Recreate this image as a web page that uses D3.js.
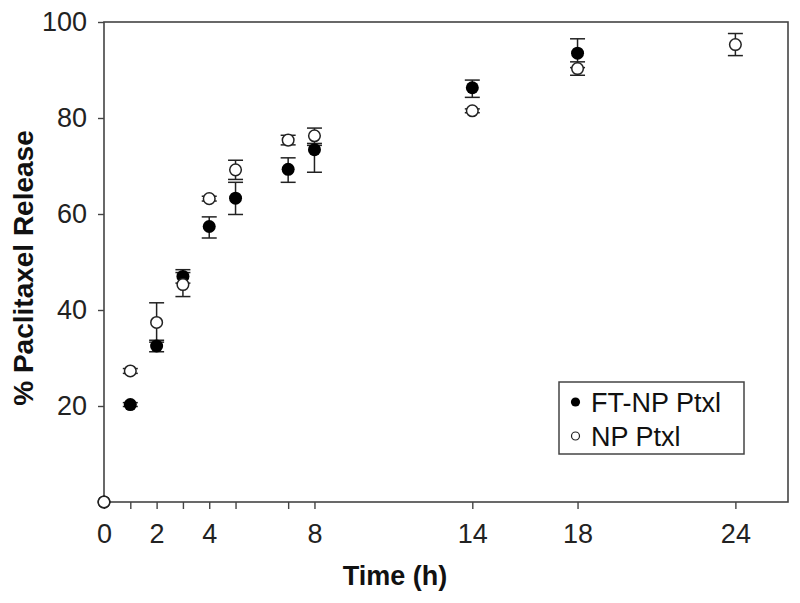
<!DOCTYPE html>
<html>
<head>
<meta charset="utf-8">
<script src="https://cdn.jsdelivr.net/npm/d3@7"></script>
<style>
  body { margin: 0; background: #fff; }
  text { font-family: "Liberation Sans", Arial, sans-serif; }
</style>
</head>
<body>
<script>
// Data
const ftTime = [0, 1, 2, 3, 4, 5, 7, 8, 14, 18];
const ftRelease = [0, 20.3, 32.5, 47, 57.4, 63.3, 69.3, 73.4, 86.3, 93.5];
const ftErrLow = [0, 0.4, 1.2, 1.4, 2.4, 3.4, 2.7, 4.7, 2.0, 3.0];
const ftErrHigh = [0, 0.4, 1.2, 1.4, 2.0, 3.3, 2.4, 0.9, 1.6, 3.0];

const npTime = [0, 1, 2, 3, 4, 5, 7, 8, 14, 18, 24];
const npRelease = [0, 27.3, 37.4, 45.3, 63.2, 69.2, 75.4, 76.3, 81.5, 90.3, 95.3];
const npErr = [0, 0.5, 4.1, 2.5, 0.5, 2.0, 1.0, 1.6, 0.4, 1.4, 2.3];

const xTicks = [0, 1, 2, 3, 4, 5, 7, 8, 14, 18, 24];
const xLabels = [0, 2, 4, 8, 14, 18, 24];
const yTicks = [20, 40, 60, 80, 100];

const seriesNames = ["FT-NP Ptxl", "NP Ptxl"];

// Layout
const W = 800, H = 603;
const plotLeft = 104, plotRight = 788, plotTop = 22, plotBottom = 502;
const axisColor = "#444";
const fontSize = 27;

const svg = d3.select("body").append("svg")
  .attr("width", W)
  .attr("height", H);

const x = d3.scaleLinear().domain([0, 26]).range([plotLeft, plotRight]);
const y = d3.scaleLinear().domain([0, 100]).range([plotBottom, plotTop]);

// Frame
svg.append("rect")
  .attr("x", plotLeft).attr("y", plotTop)
  .attr("width", plotRight - plotLeft).attr("height", plotBottom - plotTop)
  .attr("fill", "none")
  .attr("stroke", axisColor)
  .attr("stroke-width", 1.6);

// x axis
const xAxis = svg.append("g")
  .attr("transform", `translate(0,${plotBottom})`)
  .call(d3.axisBottom(x)
    .tickValues(xTicks)
    .tickSize(7)
    .tickPadding(15)
    .tickFormat(d => xLabels.includes(d) ? d : ""));
xAxis.select(".domain").remove();
xAxis.selectAll(".tick line").attr("stroke", axisColor).attr("stroke-width", 1.4);
xAxis.selectAll(".tick text")
  .attr("font-size", fontSize)
  .attr("fill", "#222")
  .attr("font-family", "Liberation Sans, Arial, sans-serif");

// y axis
const yAxis = svg.append("g")
  .attr("transform", `translate(${plotLeft},0)`)
  .call(d3.axisLeft(y)
    .tickValues(yTicks)
    .tickSize(6)
    .tickPadding(11));
yAxis.select(".domain").remove();
yAxis.selectAll(".tick line").attr("stroke", axisColor).attr("stroke-width", 1.4);
yAxis.selectAll(".tick text")
  .attr("font-size", fontSize)
  .attr("fill", "#222")
  .attr("font-family", "Liberation Sans, Arial, sans-serif");

// Axis titles
svg.append("text")
  .attr("x", 395)
  .attr("y", 585)
  .attr("text-anchor", "middle")
  .attr("font-size", fontSize)
  .attr("font-weight", "bold")
  .attr("fill", "#111")
  .text("Time (h)");

svg.append("text")
  .attr("transform", `translate(33,268) rotate(-90)`)
  .attr("text-anchor", "middle")
  .attr("font-size", 28)
  .attr("font-weight", "bold")
  .attr("fill", "#111")
  .text("% Paclitaxel Release");

// Build point tables
const ftData = ftTime.map((t, i) => ({ t, v: ftRelease[i], lo: ftErrLow[i], hi: ftErrHigh[i] }));
const npData = npTime.map((t, i) => ({ t, v: npRelease[i], lo: npErr[i], hi: npErr[i] }));

const capW = 7.5;

function drawErrors(data) {
  const g = svg.append("g")
    .attr("stroke", "#222")
    .attr("stroke-width", 1.5);
  const withErr = data.filter(d => d.lo > 0 || d.hi > 0);
  g.selectAll("line.v").data(withErr).enter().append("line")
    .attr("x1", d => x(d.t)).attr("x2", d => x(d.t))
    .attr("y1", d => y(d.v - d.lo)).attr("y2", d => y(d.v + d.hi));
  g.selectAll("line.top").data(withErr).enter().append("line")
    .attr("x1", d => x(d.t) - capW).attr("x2", d => x(d.t) + capW)
    .attr("y1", d => y(d.v + d.hi)).attr("y2", d => y(d.v + d.hi));
  g.selectAll("line.bot").data(withErr).enter().append("line")
    .attr("x1", d => x(d.t) - capW).attr("x2", d => x(d.t) + capW)
    .attr("y1", d => y(d.v - d.lo)).attr("y2", d => y(d.v - d.lo));
}

drawErrors(npData);
drawErrors(ftData);

// Filled markers
svg.append("g").selectAll("circle").data(ftData).enter().append("circle")
  .attr("cx", d => x(d.t))
  .attr("cy", d => y(d.v))
  .attr("r", 6.5)
  .attr("fill", "#000");

// Open markers
svg.append("g").selectAll("circle").data(npData).enter().append("circle")
  .attr("cx", d => x(d.t))
  .attr("cy", d => y(d.v))
  .attr("r", 5.8)
  .attr("fill", "#fff")
  .attr("stroke", "#222")
  .attr("stroke-width", 1.5);

// Legend
const legend = svg.append("g");
legend.append("rect")
  .attr("x", 559).attr("y", 382)
  .attr("width", 185).attr("height", 72)
  .attr("fill", "#fff")
  .attr("stroke", axisColor)
  .attr("stroke-width", 1.5);

seriesNames.forEach((name, i) => {
  const cy = 402 + i * 34;
  legend.append("circle")
    .attr("cx", 575.5).attr("cy", cy)
    .attr("r", i === 0 ? 4.6 : 4)
    .attr("fill", i === 0 ? "#000" : "#fff")
    .attr("stroke", "#222")
    .attr("stroke-width", i === 0 ? 0 : 1.2);
  legend.append("text")
    .attr("x", 591).attr("y", cy + 10)
    .attr("font-size", fontSize)
    .attr("fill", "#111")
    .text(name);
});
</script>
</body>
</html>
